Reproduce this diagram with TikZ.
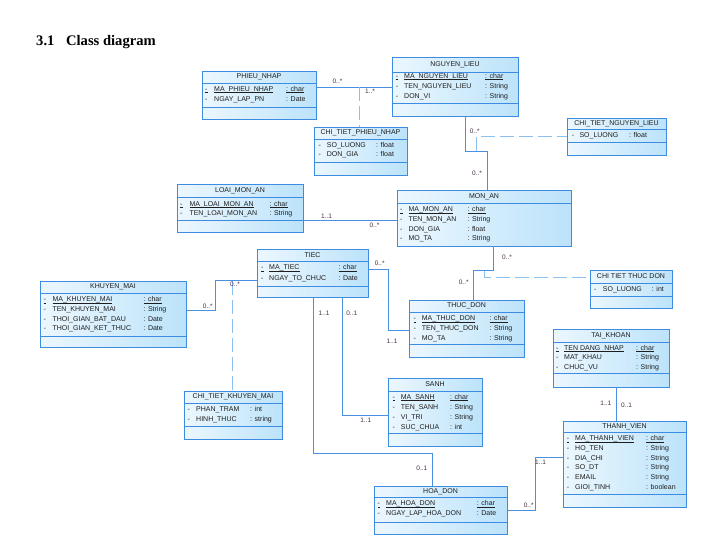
\documentclass[tikz,border=0pt]{standalone}
\usepackage{fontspec}
\setmainfont{Liberation Serif}
\setsansfont{Liberation Sans}
\usetikzlibrary{calc}
\definecolor{boxborder}{RGB}{60,140,228}
\definecolor{boxA}{RGB}{236,247,254}
\definecolor{boxB}{RGB}{188,227,250}
\definecolor{conn}{RGB}{74,144,226}
\definecolor{dashc}{RGB}{140,192,240}
\definecolor{lbl}{RGB}{70,45,70}
\definecolor{txt}{RGB}{30,30,30}
\newcounter{tn}
\newcommand{\keyul}[1]{\setbox0=\hbox{#1}\rlap{\rule[-1.1pt]{\wd0}{0.45pt}}\box0}
\tikzset{
 boxnode/.style={draw=boxborder, line width=0.8pt, left color=boxA, right color=boxB, inner sep=0pt, outer sep=0pt},
 sepline/.style={draw=boxborder, line width=0.8pt},
 titletext/.style={font=\sffamily\fontsize{7}{8}\selectfont, text=txt, inner sep=0pt},
 attrtext/.style={font=\sffamily\fontsize{7}{8}\selectfont, text=txt, inner sep=0pt, anchor=west, text height=5pt, text depth=1.2pt},
 assoc/.style={draw=conn, line width=0.7pt},
 linkdash/.style={draw=dashc, line width=0.9pt, dash pattern=on 14pt off 5pt},
 mult/.style={font=\sffamily\fontsize{6.5}{7}\selectfont, text=lbl, inner sep=0pt},
 heading/.style={font=\bfseries\fontsize{14.6}{16}\selectfont, inner sep=0pt, anchor=base west},
}
\newcommand{\umlbox}[8]{%
  \node[boxnode, anchor=north west, minimum width={(#4-#2)*1pt}, minimum height={(#7-#3)*1pt}] (#1) at (#2,#3) {};
  \draw[sepline] (#2,#5) -- (#4,#5);
  \draw[sepline] (#2,#6) -- (#4,#6);
  \node[titletext] (#1-title) at ({(#2+#4)/2},{(#3+#5)/2}) {#8};
}
\newcommand{\attrrow}[6]{%
  \stepcounter{tn}\node[attrtext] (p\thetn) at (#2,#1) {-};
  \stepcounter{tn}\node[attrtext] (n\thetn) at (#3,#1) {#5};
  \stepcounter{tn}\node[attrtext] (t\thetn) at (#4,#1) {: #6};
}
\newcommand{\keyrow}[6]{%
  \stepcounter{tn}\node[attrtext] (p\thetn) at (#2,#1) {\keyul{-}};
  \stepcounter{tn}\node[attrtext] (n\thetn) at (#3,#1) {\keyul{#5}};
  \stepcounter{tn}\node[attrtext] (t\thetn) at (#4,#1) {\keyul{: #6}};
}
\begin{document}
\begin{tikzpicture}[x=1pt,y=-1pt]
\useasboundingbox (0,0) rectangle (708,546);
\node[heading] (head) at (36,45.5) {3.1\hspace{0.8em}Class diagram};

\coordinate (m1) at (359.3,87.3);
\coordinate (m2) at (476.7,151);
\coordinate (m3) at (484,270.7);
\coordinate (m4) at (232.3,280.7);

% ---------- boxes ----------
\umlbox{pn}{202}{71}{316}{83}{107}{119}{PHIEU\_NHAP}
\keyrow{89.3}{205}{214}{286}{MA\_PHIEU\_NHAP}{char}
\attrrow{99.3}{205}{214}{286}{NGAY\_LAP\_PN}{Date}

\umlbox{nl}{392}{57}{518}{72}{103}{116}{NGUYEN\_LIEU}
\keyrow{76.7}{395.7}{404}{485}{MA\_NGUYEN\_LIEU}{char}
\attrrow{86.7}{395.7}{404}{485}{TEN\_NGUYEN\_LIEU}{String}
\attrrow{96.7}{395.7}{404}{485}{DON\_VI}{String}

\umlbox{ctnl}{567}{118}{666}{129}{142}{155}{CHI\_TIET\_NGUYEN\_LIEU}
\attrrow{136}{571.7}{579.3}{629}{SO\_LUONG}{float}

\umlbox{ctpn}{314}{127}{407}{139}{162}{175}{CHI\_TIET\_PHIEU\_NHAP}
\attrrow{145.7}{318.3}{326.7}{376}{SO\_LUONG}{float}
\attrrow{155}{318.3}{326.7}{376}{DON\_GIA}{float}

\umlbox{lma}{177}{184}{303}{197}{220}{232}{LOAI\_MON\_AN}
\keyrow{204.3}{180}{189.3}{269.3}{MA\_LOAI\_MON\_AN}{char}
\attrrow{213.7}{180}{189.3}{269.3}{TEN\_LOAI\_MON\_AN}{String}

\umlbox{ma}{397}{190}{571}{203}{246}{246}{MON\_AN}
\keyrow{210}{400}{408.3}{467.3}{MA\_MON\_AN}{char}
\attrrow{219.7}{400}{408.3}{467.3}{TEN\_MON\_AN}{String}
\attrrow{229.3}{400}{408.3}{467.3}{DON\_GIA}{float}
\attrrow{239}{400}{408.3}{467.3}{MO\_TA}{String}

\umlbox{cttd}{590}{270}{672}{283}{296}{308}{CHI TIET THUC DON}
\attrrow{289.3}{594}{602.7}{651.7}{SO\_LUONG}{int}

\umlbox{tiec}{257}{249}{368}{261}{286}{297}{TIEC}
\keyrow{268}{261}{269}{338.3}{MA\_TIEC}{char}
\attrrow{278.5}{261}{269}{338.3}{NGAY\_TO\_CHUC}{Date}

\umlbox{km}{40}{281}{186}{293}{336}{347}{KHUYEN\_MAI}
\keyrow{300}{43.3}{52.3}{143.3}{MA\_KHUYEN\_MAI}{char}
\attrrow{309.7}{43.3}{52.3}{143.3}{TEN\_KHUYEN\_MAI}{String}
\attrrow{319.3}{43.3}{52.3}{143.3}{THOI\_GIAN\_BAT\_DAU}{Date}
\attrrow{328.3}{43.3}{52.3}{143.3}{THOI\_GIAN\_KET\_THUC}{Date}

\umlbox{td}{409}{300}{524}{312}{344}{357}{THUC\_DON}
\keyrow{319}{413.3}{421.7}{489.3}{MA\_THUC\_DON}{char}
\attrrow{328.7}{413.3}{421.7}{489.3}{TEN\_THUC\_DON}{String}
\attrrow{338.3}{413.3}{421.7}{489.3}{MO\_TA}{String}

\umlbox{tk}{553}{329}{669}{342}{373}{387}{TAI\_KHOAN}
\keyrow{348.3}{556}{564}{636}{TEN DANG\_NHAP}{char}
\attrrow{357.7}{556}{564}{636}{MAT\_KHAU}{String}
\attrrow{367.7}{556}{564}{636}{CHUC\_VU}{String}

\umlbox{tv}{563}{421}{686}{432}{494}{507}{THANH\_VIEN}
\keyrow{439}{566.7}{575}{646}{MA\_THANH\_VIEN}{char}
\attrrow{448.7}{566.7}{575}{646}{HO\_TEN}{String}
\attrrow{458.3}{566.7}{575}{646}{DIA\_CHI}{String}
\attrrow{468}{566.7}{575}{646}{SO\_DT}{String}
\attrrow{478}{566.7}{575}{646}{EMAIL}{String}
\attrrow{487.7}{566.7}{575}{646}{GIOI\_TINH}{boolean}

\umlbox{ctkm}{184}{391}{282}{403}{426}{439}{CHI\_TIET\_KHUYEN\_MAI}
\attrrow{409.3}{187.3}{196}{250}{PHAN\_TRAM}{int}
\attrrow{420}{187.3}{196}{250}{HINH\_THUC}{string}

\umlbox{sanh}{388}{378}{482}{391}{433}{446}{SANH}
\keyrow{397.7}{392.3}{400.7}{450}{MA\_SANH}{char}
\attrrow{407.3}{392.3}{400.7}{450}{TEN\_SANH}{String}
\attrrow{417.3}{392.3}{400.7}{450}{VI\_TRI}{String}
\attrrow{427.3}{392.3}{400.7}{450}{SUC\_CHUA}{int}

\umlbox{hd}{374}{486}{507}{497}{522}{534}{HOA\_DON}
\keyrow{504}{377.3}{386}{476.7}{MA\_HOA\_DON}{char}
\attrrow{514}{377.3}{386}{476.7}{NGAY\_LAP\_HOA\_DON}{Date}

% ---------- associations ----------
\draw[assoc] (pn.east |- m1) -- (nl.west |- m1);
\draw[linkdash] (m1) -- (ctpn.north -| m1);
\node[mult] (l1) at (337.5,81.7) {0..*};
\node[mult] (l2) at (370,91) {1..*};

\draw[assoc] (nl.south -| 465,0) -- (465,151) -- (487.3,151) -- (ma.north -| 487.3,0);
\draw[linkdash] (m2) -- (476.7,136) -- (ctnl.west |- 0,136);
\node[mult] (l3) at (474.7,131.7) {0..*};
\node[mult] (l4) at (477,173.3) {0..*};

\draw[assoc] (lma.east |- 0,220.3) -- (ma.west |- 0,220.3);
\node[mult] (l5) at (326.5,216) {1..1};
\node[mult] (l6) at (374.5,225.7) {0..*};

\draw[assoc] (ma.south -| 493.3,0) -- (493.3,270.7) -- (473.3,270.7) -- (td.north -| 473.3,0);
\draw[linkdash] (m3) -- (484,277.3) -- (cttd.west |- 0,277.3);
\node[mult] (l7) at (507,257.3) {0..*};
\node[mult] (l8) at (463.7,282.7) {0..*};

\draw[assoc] (tiec.east |- 0,269.3) -- (388.3,269.3) -- (388.3,330) -- (td.west |- 0,330);
\node[mult] (l9) at (379.7,263.3) {0..*};
\node[mult] (l10) at (392,341) {1..1};

\draw[assoc] (km.east |- 0,310.7) -- (215.7,310.7) -- (215.7,280.7) -- (tiec.west |- m4);
\draw[linkdash] (m4) -- (ctkm.north -| m4);
\node[mult] (l11) at (207.8,306.7) {0..*};
\node[mult] (l12) at (235,284) {0..*};

\draw[assoc] (tiec.south -| 342,0) -- (342,415.3) -- (sanh.west |- 0,415.3);
\node[mult] (l13) at (351.7,313.3) {0..1};
\node[mult] (l14) at (365.8,420) {1..1};

\draw[assoc] (tiec.south -| 313.3,0) -- (313.3,453.3) -- (432.3,453.3) -- (hd.north -| 432.3,0);
\node[mult] (l15) at (324,313.3) {1..1};
\node[mult] (l16) at (421.8,468.3) {0..1};

\draw[assoc] (hd.east |- 0,510.7) -- (535.7,510.7) -- (535.7,457.3) -- (tv.west |- 0,457.3);
\node[mult] (l17) at (528.7,505.7) {0..*};
\node[mult] (l18) at (540.5,462.3) {1..1};

\draw[assoc] (tk.south -| 616.7,0) -- (tv.north -| 616.7,0);
\node[mult] (l19) at (605.8,403.3) {1..1};
\node[mult] (l20) at (626.5,405) {0..1};
\end{tikzpicture}
\end{document}
